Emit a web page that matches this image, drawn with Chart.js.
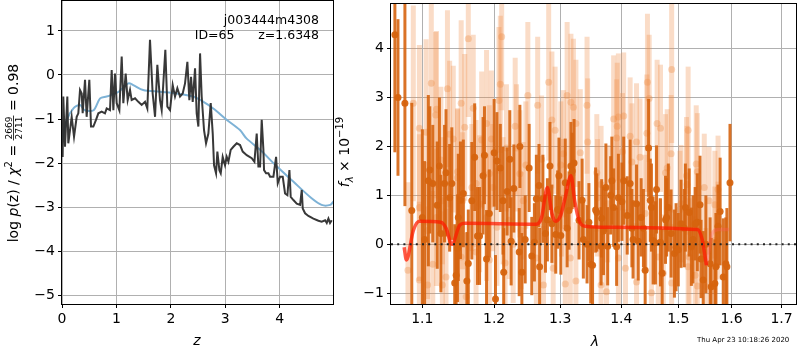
<!DOCTYPE html>
<html>
<head>
<meta charset="utf-8">
<script src="https://cdn.jsdelivr.net/npm/chart.js@4"></script>
<style>
  body { margin: 0; background: #fff; }
  #wrap { position: relative; width: 800px; height: 350px; }
  canvas { position: absolute; top: 0; }
  #left { left: 0; }
  #right { left: 330px; }
</style>
</head>
<body>
<div id="wrap">
  <canvas id="left" width="340" height="350"></canvas>
  <canvas id="right" width="470" height="350"></canvas>
</div>
<script>
// left panel: log p(z)
const zTicks = [0, 1, 2, 3, 4];
const logpTicks = [-5, -4, -3, -2, -1, 0, 1];
const zDark = [0.0, 0.012, 0.024, 0.055, 0.098, 0.116, 0.178, 0.221, 0.27, 0.30, 0.331, 0.362, 0.380, 0.423, 0.453, 0.502, 0.533, 0.576, 0.625, 0.668, 0.729, 0.79, 0.821, 0.882, 0.913, 0.944, 0.974, 1.005, 1.054, 1.097, 1.127, 1.17, 1.207, 1.25, 1.28, 1.342, 1.403, 1.464, 1.526, 1.568, 1.617, 1.666, 1.71, 1.752, 1.801, 1.832, 1.899, 1.936, 1.985, 2.034, 2.077, 2.12, 2.169, 2.218, 2.261, 2.304, 2.34, 2.371, 2.402, 2.445, 2.475, 2.506, 2.537, 2.567, 2.61, 2.647, 2.69, 2.733, 2.77, 2.794, 2.831, 2.855, 2.892, 2.917, 2.953, 2.996, 3.027, 3.058, 3.1, 3.149, 3.211, 3.272, 3.321, 3.395, 3.487, 3.536, 3.578, 3.609, 3.64, 3.67, 3.701, 3.713, 3.75, 3.793, 3.824, 3.885, 3.934, 3.965, 4.007, 4.056, 4.099, 4.142, 4.179, 4.203, 4.252, 4.314, 4.375, 4.406, 4.424, 4.467, 4.528, 4.62, 4.712, 4.773, 4.835, 4.865, 4.896, 4.926, 4.957];
const pDark = [-1.6, -1.86, -0.49, -1.63, -0.49, -1.55, -0.95, -1.40, -0.95, -0.87, -0.34, -0.42, -0.87, -0.11, -0.95, -0.11, -1.17, -1.17, -1.02, -0.87, -0.83, -0.87, -0.76, -0.80, 0.11, -0.80, 0.03, -0.64, -0.80, 0.42, -0.64, 0.03, -0.57, -0.34, -0.57, -0.53, -0.61, -0.68, -0.61, -0.76, 0.80, -0.42, -0.95, 0.23, -0.57, -0.80, 0.57, -0.72, -0.80, -0.23, -0.49, -0.30, -0.49, -0.42, -0.19, 0.30, -0.57, -0.04, -0.61, 0.15, -0.87, -1.17, 0.49, -0.49, -1.25, -1.55, -1.33, -0.64, -1.33, -2.05, -2.23, -1.74, -2.16, -2.23, -1.86, -2.05, -1.86, -1.97, -1.70, -1.63, -1.55, -1.59, -1.74, -1.82, -1.89, -1.97, -1.33, -2.08, -2.08, -1.02, -1.70, -2.16, -2.23, -2.23, -2.31, -2.31, -1.86, -2.46, -2.31, -2.31, -2.69, -2.73, -2.16, -2.77, -2.84, -2.92, -2.95, -2.61, -3.03, -3.14, -3.20, -3.26, -3.31, -3.33, -3.30, -3.36, -3.26, -3.36, -3.30];
const zBlue = [0, 0.09, 0.21, 0.33, 0.42, 0.58, 0.70, 0.82, 0.91, 1.04, 1.22, 1.31, 1.49, 1.80, 2.11, 2.41, 2.60, 2.78, 3.03, 3.27, 3.39, 3.64, 3.95, 4.25, 4.56, 4.77, 4.93, 4.99];
const pBlue = [-1.48, -1.02, -0.76, -0.68, -0.80, -0.80, -0.53, -0.49, -0.45, -0.38, -0.19, -0.23, -0.34, -0.38, -0.42, -0.49, -0.61, -0.76, -1.02, -1.25, -1.44, -1.70, -2.08, -2.42, -2.77, -2.95, -2.95, -2.87];

// right panel: spectrum
const lamTicks = [1.1, 1.2, 1.3, 1.4, 1.5, 1.6, 1.7];
const fluxTicks = [-1, 0, 1, 2, 3, 4];
const darkWave = [1.064, 1.068, 1.077, 1.086, 1.103, 1.110, 1.114, 1.120, 1.125, 1.130, 1.132, 1.137, 1.144, 1.146, 1.148, 1.152, 1.156, 1.161, 1.163, 1.172, 1.176, 1.179, 1.186, 1.189, 1.193, 1.202, 1.204, 1.209, 1.214, 1.219, 1.225, 1.229, 1.237, 1.241, 1.246, 1.252, 1.256, 1.260, 1.263, 1.268, 1.273, 1.277, 1.284, 1.287, 1.293, 1.296, 1.301, 1.308, 1.314, 1.317, 1.322, 1.330, 1.337, 1.346, 1.349, 1.352, 1.359, 1.366, 1.367, 1.374, 1.377, 1.384, 1.387, 1.395, 1.404, 1.410, 1.415, 1.420, 1.426, 1.434, 1.441, 1.447, 1.452, 1.455, 1.461, 1.468, 1.471, 1.477, 1.482, 1.487, 1.493, 1.496, 1.505, 1.513, 1.520, 1.527, 1.535, 1.540, 1.546, 1.551, 1.561, 1.570, 1.578, 1.584, 1.591, 1.597,
    1.100, 1.108, 1.123, 1.140, 1.149, 1.168, 1.184, 1.200, 1.213, 1.223, 1.238, 1.267, 1.280, 1.298, 1.311, 1.319, 1.335, 1.343, 1.357, 1.370, 1.382, 1.392, 1.401, 1.418, 1.429, 1.438, 1.450, 1.459, 1.479, 1.500, 1.511, 1.524, 1.531, 1.542, 1.559, 1.568, 1.574, 1.589];
const darkFlux = [4.28, 3.0, 2.88, 0.69, 0.10, 1.52, 1.24, 0.80, 0.22, 1.24, 1.46, 0.95, -0.79, -0.63, -0.08, 0.90, 1.04, -0.75, -0.39, 1.78, 0.17, 0.17, 1.82, -0.30, 0.63, -1.12, 1.70, 1.56, -0.57, 1.08, 0.06, 1.14, -0.16, -0.57, 0.10, 1.56, -0.24, 0.04, 0.93, -0.46, 0.93, 0.22, 1.60, 0.42, 0.20, 0.71, 0.18, 1.26, 0.69, 1.60, 1.66, 0.49, 0.10, 0.45, -0.41, -0.43, 0.65, -0.04, 0.53, 1.16, -0.04, 1.30, 0.75, 0.95, 1.30, 0.59, 1.24, 0.10, 0.83, 0.55, -0.53, 1.97, 0.75, 0.08, 1.12, 0.04, -0.59, 0.50, 0.75, 0.22, -0.19, -0.06, 0.42, 0.75, 0.65, 0.10, 0.45, 0.81, -0.73, 0.00, -0.87, -0.46, 0.67, -0.67, -0.46, 1.26,
    0.55, 1.30, 1.60, 1.24, 0.55, 0.89, 1.40, 1.87, 0.89, 1.74, 2.00, 1.20, 0.50, 1.40, 0.33, 1.50, 0.90, 0.00, 0.70, 0.27, 1.00, -0.05, 0.87, 0.33, 0.06, 0.33, 0.90, 0.03, 0.55, -0.11, 0.33, -0.05, 0.42, -0.30, -0.40, -0.80, 0.37, -0.40];
const darkErr = [2.4, 1.6, 2.1, 2.2, 1.6, 1.3, 1.2, 1.3, 1.2, 1.2, 1.3, 1.1, 1.2, 1.0, 1.1, 1.2, 1.1, 1.0, 1.1, 1.1, 1.0, 1.0, 1.0, 1.0, 0.9, 0.9, 1.0, 0.9, 0.9, 0.9, 0.9, 0.9, 0.9, 0.8, 0.9, 0.9, 0.8, 0.8, 0.9, 0.8, 0.9, 0.8, 0.9, 0.8, 0.8, 0.8, 0.8, 0.9, 0.8, 0.9, 0.9, 0.8, 0.8, 0.8, 0.8, 0.8, 0.8, 0.8, 0.8, 0.9, 0.8, 0.9, 0.8, 0.9, 0.9, 0.8, 0.9, 0.8, 0.8, 0.8, 0.8, 1.0, 0.9, 0.9, 0.9, 0.9, 0.9, 0.9, 0.9, 0.9, 0.9, 0.9, 0.9, 0.9, 0.9, 0.9, 1.0, 1.0, 1.0, 1.0, 1.0, 1.1, 1.1, 1.2, 1.2, 1.2,
    1.8, 1.75, 1.4, 1.15, 1.3, 1.2, 1.2, 1.1, 1.1, 1.0, 0.85, 0.85, 0.85, 0.78, 0.8, 0.78, 0.85, 0.8, 0.87, 0.9, 0.8, 0.8, 0.8, 0.8, 0.8, 0.8, 0.85, 0.85, 0.8, 0.75, 0.8, 0.8, 0.75, 0.8, 0.95, 0.9, 0.85, 0.95];
const lightWave = [1.081, 1.088, 1.096, 1.096, 1.096, 1.105, 1.107, 1.107, 1.112, 1.114, 1.118, 1.119, 1.119, 1.125, 1.127, 1.127, 1.132, 1.134, 1.137, 1.142, 1.148, 1.148, 1.153, 1.153, 1.155, 1.158, 1.160, 1.163, 1.168, 1.170, 1.174, 1.174, 1.179, 1.182, 1.189, 1.189, 1.193, 1.193, 1.196, 1.198, 1.204, 1.207, 1.209, 1.211, 1.213, 1.216, 1.218, 1.222, 1.228, 1.231, 1.233, 1.238, 1.240, 1.243, 1.247, 1.250, 1.263, 1.265, 1.271, 1.274, 1.282, 1.287, 1.289, 1.292, 1.301, 1.302, 1.305, 1.308, 1.311, 1.316, 1.317, 1.321, 1.325, 1.325, 1.332, 1.343, 1.344, 1.359, 1.360, 1.366, 1.366, 1.375, 1.377, 1.387, 1.392, 1.393, 1.395, 1.395, 1.402, 1.404, 1.407, 1.415, 1.418, 1.426, 1.426, 1.432, 1.441, 1.444, 1.445, 1.448, 1.452, 1.462, 1.464, 1.468, 1.473, 1.477, 1.480, 1.487, 1.488, 1.488, 1.503, 1.505, 1.515, 1.516, 1.518, 1.518, 1.520, 1.531, 1.533, 1.535, 1.535, 1.548, 1.551, 1.557, 1.568, 1.568, 1.574, 1.574];
const lightFlux = [-0.53, 2.88, 2.37, -0.73, 0.75, 2.29, -0.83, 0.28, 3.29, -0.41, 2.64, 2.76, 0.55, 1.72, -0.83, 0.89, -0.67, 3.18, 2.25, 2.15, 1.48, 1.36, 2.88, -0.26, 0.89, 2.39, -1.07, 4.20, 1.16, 2.78, 1.24, -0.16, 0.83, 2.13, 2.47, 0.55, -0.32, 1.44, 2.15, 1.16, 0.35, 2.94, 3.27, 4.24, 0.89, -0.38, 1.97, 0.49, 0.00, 2.41, 1.97, 1.44, 0.28, 0.89, 1.62, 3.04, -0.28, 2.84, 1.74, -0.83, 3.31, 2.54, -0.49, 2.33, 1.62, 0.95, 1.85, -0.81, 3.04, -0.28, 2.90, 2.80, 2.47, -0.75, 1.87, 2.84, 2.09, 1.46, 0.95, 1.22, -0.83, -0.97, 0.83, 2.56, 2.17, 2.41, 2.60, -0.28, 1.89, 2.62, -0.49, 2.21, 1.68, 2.09, -0.77, 1.78, 0.63, 2.27, 3.31, 2.98, -0.99, 2.47, -0.26, 2.37, -0.59, 1.46, 1.56, 1.85, 3.57, -0.79, 0.71, 0.83, 1.40, 1.22, 2.33, -0.46, -0.26, -0.63, 1.64, 1.48, -0.85, 1.16, -0.87, 0.89, 0.81, 0.08, 1.12, 0.28];
const lightErr = [1.8, 2.0, 1.7, 1.6, 1.5, 1.9, 1.6, 1.4, 1.8, 1.5, 1.7, 1.6, 1.4, 1.5, 1.5, 1.3, 1.4, 1.6, 1.5, 1.5, 1.3, 1.4, 1.7, 1.3, 1.4, 1.5, 1.3, 1.6, 1.3, 1.5, 1.3, 1.3, 1.4, 1.4, 1.5, 1.3, 1.3, 1.4, 1.4, 1.3, 1.2, 1.5, 1.4, 1.5, 1.3, 1.2, 1.3, 1.2, 1.2, 1.4, 1.3, 1.3, 1.2, 1.2, 1.3, 1.5, 1.2, 1.4, 1.3, 1.2, 1.6, 1.4, 1.2, 1.3, 1.3, 1.2, 1.3, 1.2, 1.5, 1.2, 1.4, 1.4, 1.3, 1.2, 1.3, 1.4, 1.3, 1.2, 1.2, 1.2, 1.2, 1.2, 1.2, 1.3, 1.2, 1.3, 1.3, 1.2, 1.2, 1.3, 1.2, 1.2, 1.2, 1.2, 1.2, 1.2, 1.2, 1.2, 1.4, 1.3, 1.2, 1.3, 1.2, 1.3, 1.2, 1.2, 1.2, 1.2, 1.5, 1.2, 1.2, 1.2, 1.2, 1.2, 1.3, 1.2, 1.2, 1.2, 1.2, 1.2, 1.2, 1.1, 1.2, 1.1, 1.1, 1.1, 1.1, 1.0];
const modelWave = [1.076, 1.079, 1.088, 1.096, 1.125, 1.132, 1.140, 1.151, 1.158, 1.263, 1.271, 1.280, 1.287, 1.293, 1.301, 1.308, 1.317, 1.323, 1.330, 1.340, 1.379, 1.535, 1.544, 1.552];
const modelFlux = [-0.06, -0.32, 0.28, 0.47, 0.45, 0.33, 0.0, 0.39, 0.43, 0.41, 0.55, 1.16, 0.63, 0.47, 0.6, 0.96, 1.40, 0.89, 0.49, 0.37, 0.35, 0.30, 0.10, -0.43];
const tailWave = [1.552, 1.563, 1.574, 1.595];
const tailFlux = [-0.43, 0.22, 0.30, 0.30];
const zeroWave = [1.059, 1.730];
const zeroFlux = [0, 0];

const pts = (xs, ys) => xs.map((x, i) => ({ x: x, y: ys[i] }));
const minus = v => String(v).replace('-', '\u2212');
const FONT = 'DejaVu Sans';

// matplotlib style box round the plot area
const frame = {
    id: 'frame',
    afterDraw(chart) {
        const a = chart.chartArea, ctx = chart.ctx;
        ctx.save();
        ctx.strokeStyle = '#000';
        ctx.lineWidth = 1;
        ctx.strokeRect(Math.round(a.left) - 0.5, Math.round(a.top) - 0.5, a.right - a.left + 1, a.bottom - a.top + 1);
        ctx.restore();
    }
};

// vertical error bars under each point dataset
const errorBars = {
    id: 'errorBars',
    beforeDatasetDraw(chart, args) {
        const ds = chart.data.datasets[args.index];
        if (!ds.errors) return;
        const ctx = chart.ctx, ys = chart.scales.y, a = chart.chartArea;
        ctx.save();
        ctx.beginPath();
        ctx.rect(a.left, a.top, a.right - a.left, a.bottom - a.top);
        ctx.clip();
        ctx.strokeStyle = ds.barColor;
        ctx.lineWidth = ds.barWidth;
        args.meta.data.forEach((p, i) => {
            const v = ds.data[i].y, e = ds.errors[i];
            ctx.beginPath();
            ctx.moveTo(p.x, ys.getPixelForValue(v - e));
            ctx.lineTo(p.x, ys.getPixelForValue(v + e));
            ctx.stroke();
        });
        ctx.restore();
    }
};

// draws a run of text pieces, rotated or not, centred on (cx, cy)
function drawRun(ctx, parts, cx, cy, rotate) {
    ctx.save();
    ctx.translate(cx, cy);
    if (rotate) ctx.rotate(-Math.PI / 2);
    ctx.textBaseline = 'alphabetic';
    ctx.textAlign = 'left';
    let total = 0;
    parts.forEach(p => {
        ctx.font = p.f;
        p.w = p.frac ? Math.max(ctx.measureText(p.frac[0]).width, ctx.measureText(p.frac[1]).width) + 2 : ctx.measureText(p.t).width;
        total += p.w;
    });
    let x = -total / 2;
    parts.forEach(p => {
        ctx.font = p.f;
        ctx.fillStyle = '#000';
        if (p.frac) {
            ctx.textAlign = 'center';
            ctx.fillText(p.frac[0], x + p.w / 2, -6);
            ctx.fillText(p.frac[1], x + p.w / 2, 4);
            ctx.fillRect(x, -5, p.w, 0.8);
            ctx.textAlign = 'left';
        } else {
            ctx.fillText(p.t, x, p.dy || 0);
        }
        x += p.w;
    });
    ctx.restore();
}

const leftText = {
    id: 'leftText',
    afterDraw(chart) {
        const ctx = chart.ctx;
        ctx.save();
        ctx.fillStyle = '#000';
        ctx.font = '12.5px ' + FONT;
        ctx.textAlign = 'right';
        ctx.fillText('j003444m4308', 319, 24);
        ctx.fillText('ID=65      z=1.6348', 319, 39);
        ctx.textAlign = 'center';
        ctx.font = 'italic 14px ' + FONT;
        ctx.fillText('z', 197, 345);
        ctx.restore();
        drawRun(ctx, [
            { t: 'log ', f: '14px ' + FONT },
            { t: 'p', f: 'italic 14px ' + FONT },
            { t: '(z) / ', f: '14px ' + FONT },
            { t: '\u03c7', f: 'italic 14px ' + FONT },
            { t: '2', f: '10px ' + FONT, dy: -6 },
            { t: ' = ', f: '14px ' + FONT },
            { frac: ['2669', '2711'], f: '9px ' + FONT },
            { t: ' = 0.98', f: '14px ' + FONT }
        ], 18, 153, true);
    }
};

const rightText = {
    id: 'rightText',
    afterDraw(chart) {
        const ctx = chart.ctx;
        ctx.save();
        ctx.fillStyle = '#000';
        ctx.textAlign = 'center';
        ctx.font = 'italic 14px ' + FONT;
        ctx.fillText('\u03bb', 595 - 330, 346);
        ctx.textAlign = 'left';
        ctx.font = '7px ' + FONT;
        ctx.fillText('Thu Apr 23 10:18:26 2020', 697 - 330, 342);
        ctx.restore();
        drawRun(ctx, [
            { t: 'f', f: 'italic 14px ' + FONT },
            { t: '\u03bb', f: 'italic 10px ' + FONT, dy: 4 },
            { t: ' \u00d7 10', f: '14px ' + FONT },
            { t: '\u221219', f: '10px ' + FONT, dy: -6 }
        ], 349 - 330, 152, true);
    }
};

// shared axis look; fixed size and no label overhang padding
function axis(type, min, max, tickList, size, isX) {
    return {
        type: type, min: min, max: max,
        grid: { color: '#b0b0b0', lineWidth: 1, drawTicks: true, tickLength: 4, tickColor: '#000' },
        border: { display: false },
        ticks: {
            color: '#000', font: { family: FONT, size: 14 }, padding: 3, maxRotation: 0, autoSkip: false,
            callback: v => type === 'logarithmic' ? Number(v).toFixed(1) : minus(v)
        },
        afterBuildTicks: s => { s.ticks = tickList.map(v => ({ value: v })); },
        afterFit: s => {
            if (isX) s.height = size; else s.width = size;
            s.paddingTop = 0; s.paddingBottom = 0; s.paddingLeft = 0; s.paddingRight = 0;
        }
    };
}

new Chart(document.getElementById('left'), {
    type: 'scatter',
    data: {
        datasets: [
            { data: pts(zDark, pDark), showLine: true, borderColor: 'rgba(45,45,45,0.95)', borderWidth: 2, pointRadius: 0, order: 0 },
            { data: pts(zBlue, pBlue), showLine: true, borderColor: 'rgb(125,178,214)', borderWidth: 2, pointRadius: 0, tension: 0.3, order: 1 }
        ]
    },
    options: {
        responsive: false,
        animation: false,
        layout: { padding: { top: 1, right: 7, left: 0, bottom: 0 } },
        plugins: { legend: { display: false }, tooltip: { enabled: false } },
        scales: {
            x: axis('linear', 0, 4.98, zTicks, 46, true),
            y: axis('linear', -5.2, 1.68, logpTicks, 62, false)
        }
    },
    plugins: [frame, leftText]
});

new Chart(document.getElementById('right'), {
    type: 'scatter',
    data: {
        datasets: [
            { data: pts(zeroWave, zeroFlux), showLine: true, borderColor: '#222', borderWidth: 2, borderDash: [2, 4.2], pointRadius: 0, order: 0 },
            { data: pts(modelWave, modelFlux), showLine: true, borderColor: 'rgba(255,25,0,0.72)', borderWidth: 3.5, pointRadius: 0, cubicInterpolationMode: 'monotone', order: 1 },
            { data: pts(tailWave, tailFlux), showLine: true, borderColor: 'rgba(255,90,90,0.35)', borderWidth: 3.5, pointRadius: 0, cubicInterpolationMode: 'monotone', order: 2 },
            { data: pts(darkWave, darkFlux), errors: darkErr, barColor: 'rgba(214,100,15,0.9)', barWidth: 3,
              pointRadius: 3.5, pointBackgroundColor: 'rgba(214,100,15,0.95)', pointBorderWidth: 0, order: 3 },
            { data: pts(lightWave, lightFlux), errors: lightErr, barColor: 'rgba(238,140,70,0.3)', barWidth: 5,
              pointRadius: 3.5, pointBackgroundColor: 'rgba(238,140,70,0.35)', pointBorderWidth: 0, order: 4 }
        ]
    },
    options: {
        responsive: false,
        animation: false,
        layout: { padding: { top: 1, right: 1, left: 0, bottom: 0 } },
        plugins: { legend: { display: false }, tooltip: { enabled: false } },
        scales: {
            x: axis('logarithmic', 1.059, 1.730, lamTicks, 46, true),
            y: axis('linear', -1.22, 4.91, fluxTicks, 61, false)
        }
    },
    plugins: [errorBars, frame, rightText]
});
</script>
</body>
</html>
